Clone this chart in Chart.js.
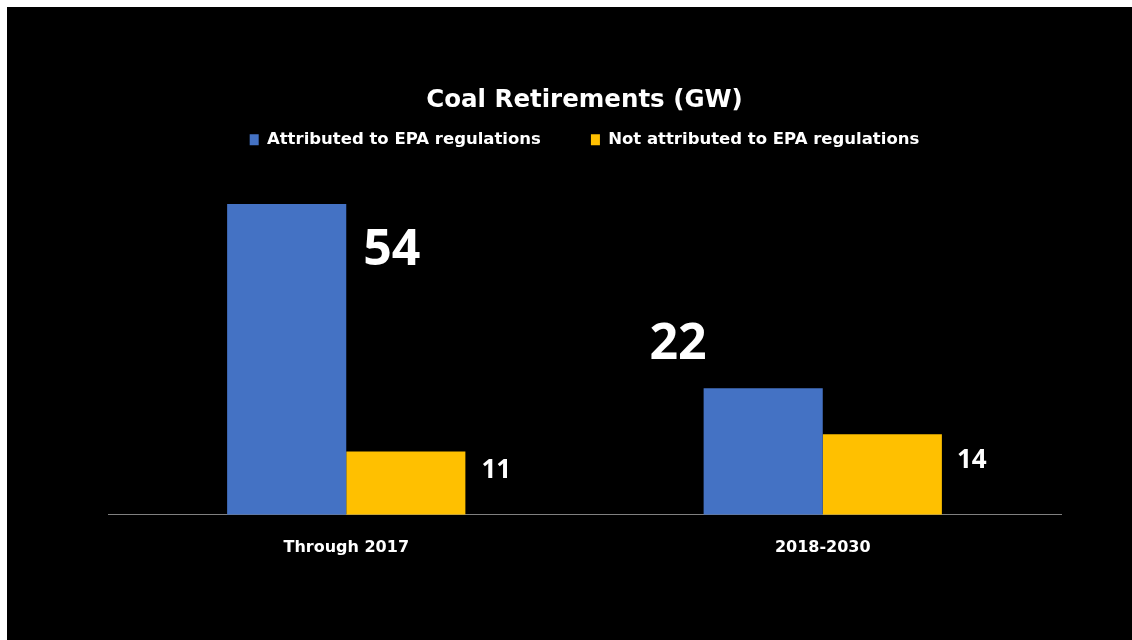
<!DOCTYPE html>
<html>
<head>
<meta charset="utf-8">
<script src="https://cdn.jsdelivr.net/npm/chart.js@4/dist/chart.umd.min.js"></script>
<style>
  html, body { margin: 0; padding: 0; background: #fff; }
  #wrap { position: absolute; left: 7px; top: 7px; width: 1125px; height: 633px; background: #000; }
</style>
</head>
<body>
<div id="wrap"><canvas id="myChart" width="1125" height="633"></canvas></div>
<script>
// data
const categorias = ['Through 2017', '2018-2030'];
const atribuidoEPA = [54, 22];
const noAtribuidoEPA = [11, 14];
const nombresSeries = ['Attributed to EPA regulations', 'Not attributed to EPA regulations'];

// label look, per dataset / per point: [dx, dy, font size, anchor]
const etiquetas = [
    [[17, 47, 50, 'right'], [-3, -43, 50, 'left']],
    [[16, 19, 26, 'right'], [15, 26, 26, 'right']]
];

const fuente = "'DejaVu Sans', sans-serif";
const fuenteNum = "'Open Sans', sans-serif";

const pluginEtiquetas = {
    id: 'etiquetas',
    afterDatasetsDraw(chart) {
        const ctx = chart.ctx;
        ctx.save();
        ctx.fillStyle = '#fff';
        ctx.textBaseline = 'middle';
        chart.data.datasets.forEach((ds, i) => {
            chart.getDatasetMeta(i).data.forEach((bar, j) => {
                const [dx, dy, size, lado] = etiquetas[i][j];
                ctx.font = `bold ${size}px ${fuenteNum}`;
                let x;
                if (lado === 'right') {
                    ctx.textAlign = 'left';
                    x = bar.x + bar.width / 2 + dx;
                } else {
                    ctx.textAlign = 'right';
                    x = bar.x - bar.width / 2 - dx;
                }
                ctx.fillText(ds.data[j], x, bar.y + dy);
            });
        });
        ctx.restore();
    }
};

const ctx = document.getElementById('myChart');

new Chart(ctx, {
    type: 'bar',
    data: {
        labels: categorias,
        datasets: [{
            label: nombresSeries[0],
            data: atribuidoEPA,
            backgroundColor: '#4472C4'
        }, {
            label: nombresSeries[1],
            data: noAtribuidoEPA,
            backgroundColor: '#FFC000'
        }]
    },
    options: {
        responsive: false,
        animation: false,
        layout: {
            padding: { top: 70, left: 101, right: 71, bottom: 68 }
        },
        datasets: {
            bar: { categoryPercentage: 0.5, barPercentage: 1 }
        },
        plugins: {
            title: {
                display: true,
                text: 'Coal Retirements (GW)',
                color: '#fff',
                font: { family: fuente, size: 24.5, weight: 'bold' },
                padding: { top: 9, bottom: -34 }
            },
            legend: {
                labels: {
                    color: '#fff',
                    font: { family: fuente, size: 16.5, weight: 'bold' },
                    boxWidth: 9,
                    boxHeight: 11,
                    padding: 50
                }
            },
            tooltip: { enabled: false }
        },
        scales: {
            x: {
                grid: { display: false },
                border: { display: true, color: '#808080', width: 1 },
                ticks: {
                    color: '#fff',
                    padding: 15,
                    font: { family: fuente, size: 16, weight: 'bold' }
                }
            },
            y: {
                display: false,
                min: 0,
                max: 62
            }
        }
    },
    plugins: [pluginEtiquetas]
});
</script>
</body>
</html>
